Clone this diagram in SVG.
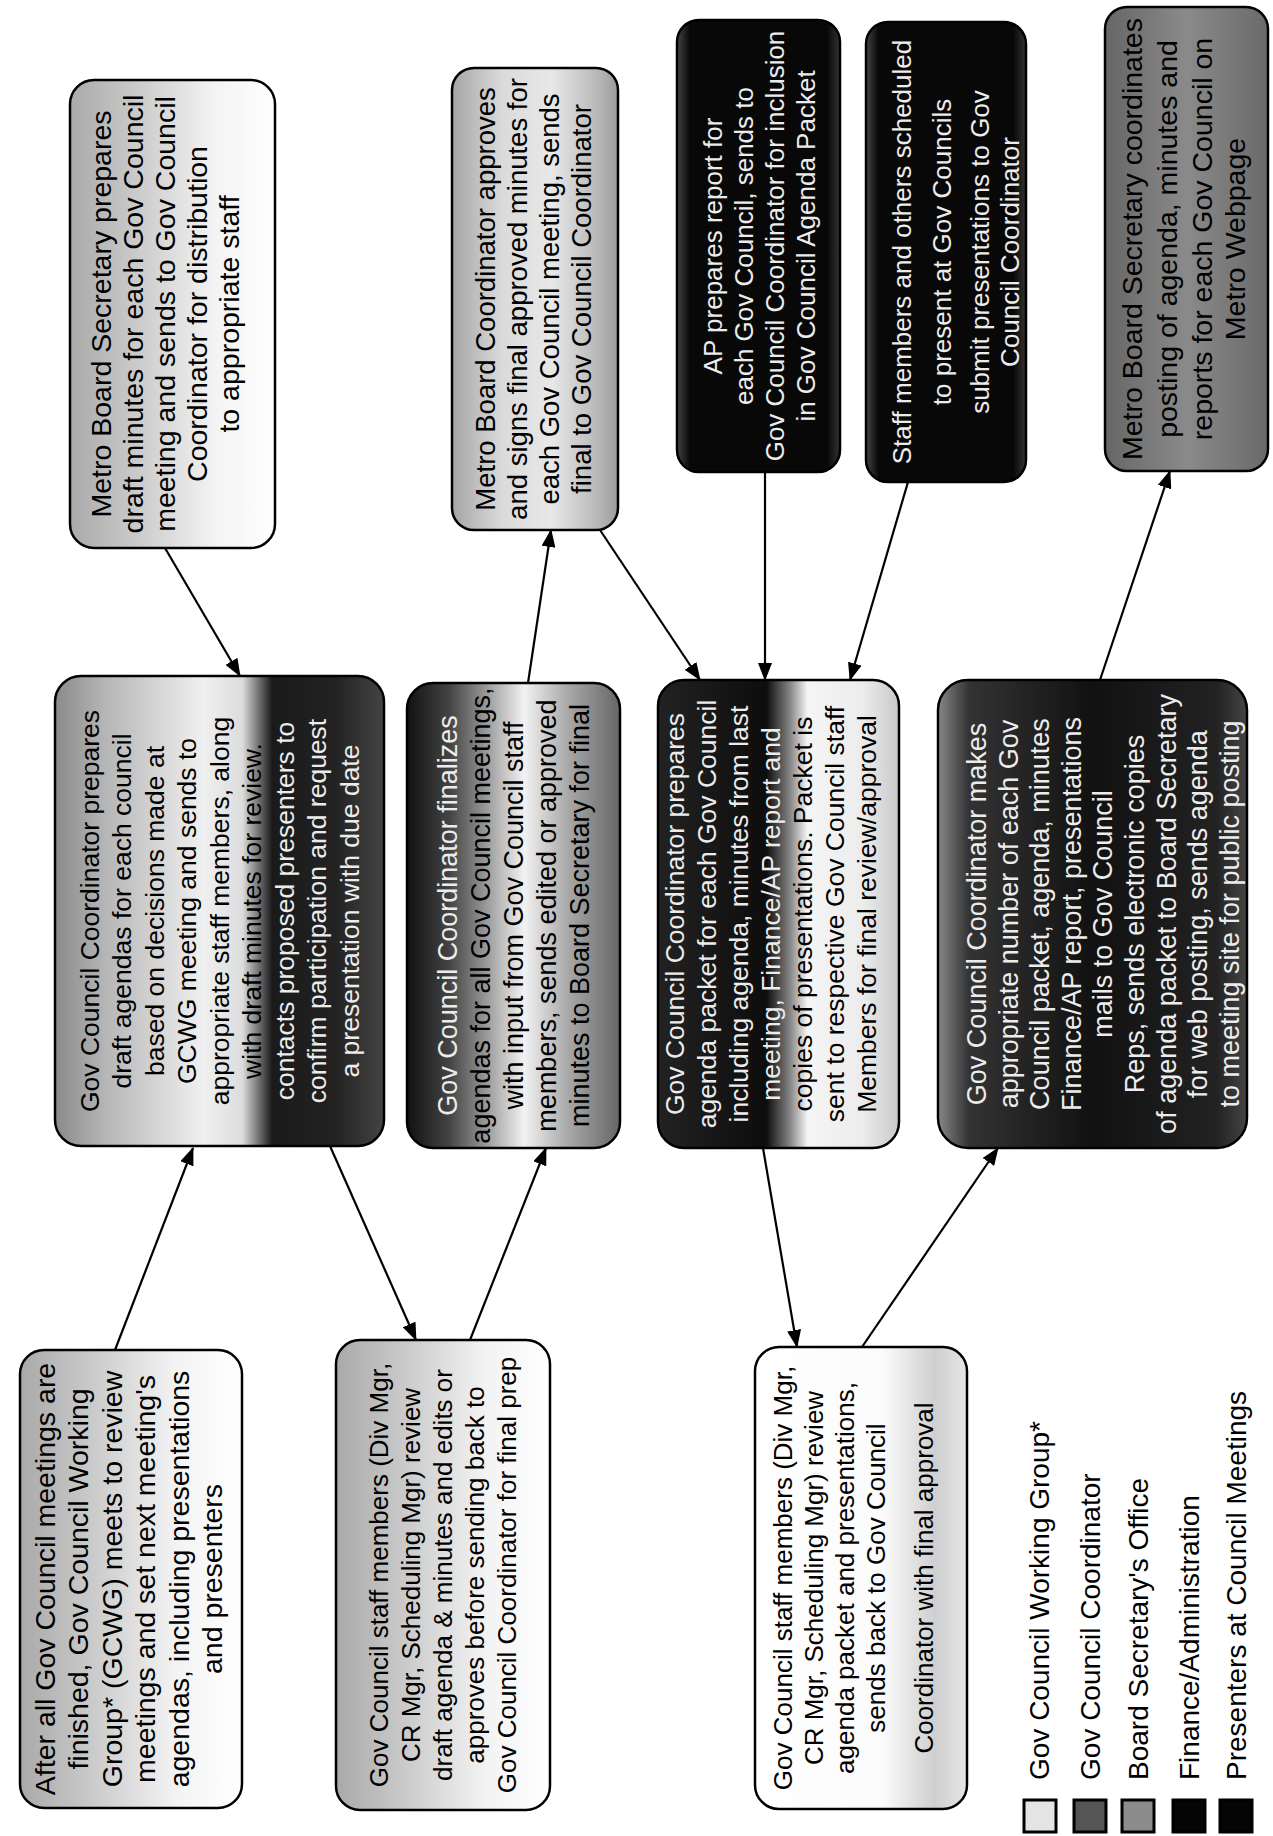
<svg xmlns="http://www.w3.org/2000/svg" width="1273" height="1836" viewBox="0 0 1273 1836">
<style>
.box{stroke:#000;stroke-width:2.5}
.t{font-family:"Liberation Sans",Arial,sans-serif;font-size:26px;text-anchor:middle;fill:#000}
.w{fill:#ececec}
.lg{font-family:"Liberation Sans",Arial,sans-serif;font-size:28px;fill:#000}
.sw{stroke:#000;stroke-width:3}
.cn line{stroke:#000;stroke-width:2.2;marker-end:url(#ah)}
</style>
<defs>
<marker id="ah" markerWidth="18" markerHeight="14" refX="17" refY="7" orient="auto" markerUnits="userSpaceOnUse"><path d="M0,0 L18,7 L0,14 z" fill="#000"/></marker>
<linearGradient id="gA" x1="0" y1="0" x2="1" y2="0"><stop offset="0" stop-color="#a9a9a9"/><stop offset="0.35" stop-color="#cdcdcd"/><stop offset="0.7" stop-color="#f3f3f3"/><stop offset="1" stop-color="#fff"/></linearGradient>
<linearGradient id="gC" x1="0" y1="0" x2="1" y2="0"><stop offset="0" stop-color="#fff"/><stop offset="0.6" stop-color="#fbfbfb"/><stop offset="0.85" stop-color="#cfcfcf"/><stop offset="1" stop-color="#e6e6e6"/></linearGradient>
<linearGradient id="gI" x1="0" y1="0" x2="1" y2="0"><stop offset="0" stop-color="#a5a5a5"/><stop offset="0.3" stop-color="#dadada"/><stop offset="0.6" stop-color="#e8e8e8"/><stop offset="0.9" stop-color="#b4b4b4"/><stop offset="1" stop-color="#9a9a9a"/></linearGradient>
<linearGradient id="gD" x1="0" y1="0" x2="1" y2="0"><stop offset="0" stop-color="#8a8a8a"/><stop offset="0.15" stop-color="#b5b5b5"/><stop offset="0.45" stop-color="#f0f0f0"/><stop offset="0.57" stop-color="#dcdcdc"/><stop offset="0.66" stop-color="#1a1a1a"/><stop offset="0.85" stop-color="#222"/><stop offset="1" stop-color="#444"/></linearGradient>
<linearGradient id="gE" x1="0" y1="0" x2="1" y2="0"><stop offset="0" stop-color="#111"/><stop offset="0.2" stop-color="#444"/><stop offset="0.55" stop-color="#f2f2f2"/><stop offset="0.75" stop-color="#aaa"/><stop offset="1" stop-color="#666"/></linearGradient>
<linearGradient id="gF" x1="0" y1="0" x2="1" y2="0"><stop offset="0" stop-color="#222"/><stop offset="0.45" stop-color="#0d0d0d"/><stop offset="0.55" stop-color="#888"/><stop offset="0.62" stop-color="#f5f5f5"/><stop offset="0.85" stop-color="#ececec"/><stop offset="1" stop-color="#c8c8c8"/></linearGradient>
<linearGradient id="gG" x1="0" y1="0" x2="1" y2="0"><stop offset="0" stop-color="#888"/><stop offset="0.1" stop-color="#333"/><stop offset="0.5" stop-color="#111"/><stop offset="0.9" stop-color="#222"/><stop offset="1" stop-color="#444"/></linearGradient>
<linearGradient id="gK" x1="0" y1="0" x2="1" y2="0"><stop offset="0" stop-color="#444"/><stop offset="0.08" stop-color="#080808"/><stop offset="0.92" stop-color="#080808"/><stop offset="1" stop-color="#333"/></linearGradient>
<linearGradient id="gL" x1="0" y1="0" x2="1" y2="0"><stop offset="0" stop-color="#666"/><stop offset="0.5" stop-color="#8a8a8a"/><stop offset="1" stop-color="#6a6a6a"/></linearGradient>
</defs>

<g id="connectors" class="cn">
<line x1="115" y1="1350" x2="193" y2="1148"/>
<line x1="330" y1="1146" x2="416" y2="1340"/>
<line x1="470" y1="1340" x2="546" y2="1148"/>
<line x1="528" y1="683" x2="551" y2="530"/>
<line x1="165" y1="548" x2="240" y2="676"/>
<line x1="600" y1="530" x2="700" y2="680"/>
<line x1="765" y1="472" x2="765" y2="680"/>
<line x1="908" y1="482" x2="850" y2="680"/>
<line x1="763" y1="1148" x2="797" y2="1347"/>
<line x1="862" y1="1347" x2="998" y2="1148"/>
<line x1="1100" y1="680" x2="1170" y2="471"/>
</g>

<g id="nodeA">
<rect class="box" x="20" y="1350" width="222" height="458" rx="24" fill="url(#gA)"/>
<g transform="translate(131,1579) rotate(-90)">
<text class="t" style="font-size:28.5px" y="-76">After all Gov Council meetings are</text>
<text class="t" style="font-size:28.5px" y="-43">finished, Gov Council Working</text>
<text class="t" style="font-size:28.5px" y="-9">Group* (GCWG) meets to review</text>
<text class="t" style="font-size:28.5px" y="24">meetings and set next meeting's</text>
<text class="t" style="font-size:28.5px" y="58">agendas, including presentations</text>
<text class="t" style="font-size:28.5px" y="91">and presenters</text>
</g>
</g>

<g id="nodeB">
<rect class="box" x="336" y="1340" width="214" height="470" rx="24" fill="url(#gA)"/>
<g transform="translate(443,1575) rotate(-90)">
<text class="t" y="-55">Gov Council staff members (Div Mgr,</text>
<text class="t" y="-23">CR Mgr, Scheduling Mgr) review</text>
<text class="t" y="9">draft agenda &amp; minutes and edits or</text>
<text class="t" y="41">approves before sending back to</text>
<text class="t" y="73">Gov Council Coordinator for final prep</text>
</g>
</g>

<g id="nodeC">
<rect class="box" x="755" y="1347" width="212" height="462" rx="24" fill="url(#gC)"/>
<g transform="translate(861,1578) rotate(-90)">
<text class="t" y="-69">Gov Council staff members (Div Mgr,</text>
<text class="t" y="-38">CR Mgr, Scheduling Mgr) review</text>
<text class="t" y="-7">agenda packet and presentations,</text>
<text class="t" y="24">sends back to Gov Council</text>
<text class="t" y="72">Coordinator with final approval</text>
</g>
</g>

<g id="nodeD">
<rect class="box" x="55" y="676" width="329" height="470" rx="26" fill="url(#gD)"/>
<g transform="translate(219.5,911) rotate(-90)">
<text class="t" style="font-size:26.5px" y="-121">Gov Council Coordinator prepares</text>
<text class="t" style="font-size:26.5px" y="-88.5">draft agendas for each council</text>
<text class="t" style="font-size:26.5px" y="-56">based on decisions made at</text>
<text class="t" style="font-size:26.5px" y="-23.5">GCWG meeting and sends to</text>
<text class="t" style="font-size:26.5px" y="9">appropriate staff members, along</text>
<text class="t" style="font-size:26.5px" y="41.5">with draft minutes for review.</text>
<text class="t w" style="font-size:26.5px" y="74">contacts proposed presenters to</text>
<text class="t w" style="font-size:26.5px" y="106.5">confirm participation and request</text>
<text class="t w" style="font-size:26.5px" y="139">a presentation with due date</text>
</g>
</g>

<g id="nodeE">
<rect class="box" x="407" y="683" width="213" height="465" rx="26" fill="url(#gE)"/>
<g transform="translate(513.5,915.5) rotate(-90)">
<text class="t w" style="font-size:27px" y="-57">Gov Council Coordinator finalizes</text>
<text class="t" style="font-size:27px" y="-24">agendas for all Gov Council meetings,</text>
<text class="t" style="font-size:27px" y="9">with input from Gov Council staff</text>
<text class="t" style="font-size:27px" y="42">members, sends edited or approved</text>
<text class="t" style="font-size:27px" y="75">minutes to Board Secretary for final</text>
</g>
</g>

<g id="nodeF">
<rect class="box" x="658" y="680" width="241" height="468" rx="26" fill="url(#gF)"/>
<g transform="translate(778.5,914) rotate(-90)">
<text class="t w" style="font-size:26.5px" y="-94.5">Gov Council Coordinator prepares</text>
<text class="t w" style="font-size:26.5px" y="-62.5">agenda packet for each Gov Council</text>
<text class="t w" style="font-size:26.5px" y="-30.5">including agenda, minutes from last</text>
<text class="t w" style="font-size:26.5px" y="1.5">meeting, Finance/AP report and</text>
<text class="t" style="font-size:26.5px" y="33.5">copies of presentations. Packet is</text>
<text class="t" style="font-size:26.5px" y="65.5">sent to respective Gov Council staff</text>
<text class="t" style="font-size:26.5px" y="97.5">Members for final review/approval</text>
</g>
</g>

<g id="nodeG">
<rect class="box" x="938" y="680" width="309" height="468" rx="30" fill="url(#gG)"/>
<g transform="translate(1092.5,914) rotate(-90)">
<text class="t w" style="font-size:27px" y="-106.5">Gov Council Coordinator makes</text>
<text class="t w" style="font-size:27px" y="-74.9">appropriate number of each Gov</text>
<text class="t w" style="font-size:27px" y="-43.3">Council packet, agenda, minutes</text>
<text class="t w" style="font-size:27px" y="-11.7">Finance/AP report, presentations</text>
<text class="t w" style="font-size:27px" y="19.9">mails to Gov Council</text>
<text class="t w" style="font-size:27px" y="51.5">Reps, sends electronic copies</text>
<text class="t w" style="font-size:27px" y="83.1">of agenda packet to Board Secretary</text>
<text class="t w" style="font-size:27px" y="114.7">for web posting, sends agenda</text>
<text class="t w" style="font-size:27px" y="146.3">to meeting site for public posting</text>
</g>
</g>

<g id="nodeH">
<rect class="box" x="70" y="80" width="205" height="468" rx="24" fill="url(#gA)"/>
<g transform="translate(172.5,314) rotate(-90)">
<text class="t" style="font-size:28.5px" y="-62">Metro Board Secretary prepares</text>
<text class="t" style="font-size:28.5px" y="-30">draft minutes for each Gov Council</text>
<text class="t" style="font-size:28.5px" y="2">meeting and sends to Gov Council</text>
<text class="t" style="font-size:28.5px" y="34">Coordinator for distribution</text>
<text class="t" style="font-size:28.5px" y="66">to appropriate staff</text>
</g>
</g>

<g id="nodeI">
<rect class="box" x="452" y="68" width="166" height="462" rx="22" fill="url(#gI)"/>
<g transform="translate(535,299) rotate(-90)">
<text class="t" style="font-size:27.5px" y="-40">Metro Board Coordinator approves</text>
<text class="t" style="font-size:27.5px" y="-8">and signs final approved minutes for</text>
<text class="t" style="font-size:27.5px" y="24">each Gov Council meeting, sends</text>
<text class="t" style="font-size:27.5px" y="56">final to Gov Council Coordinator</text>
</g>
</g>

<g id="nodeJ">
<rect class="box" x="677" y="20" width="163" height="452" rx="22" fill="url(#gK)"/>
<g transform="translate(758.5,246) rotate(-90)">
<text class="t w" y="-36.5">AP prepares report for</text>
<text class="t w" y="-5.5">each Gov Council, sends to</text>
<text class="t w" y="25.5">Gov Council Coordinator for inclusion</text>
<text class="t w" y="56.5">in Gov Council Agenda Packet</text>
</g>
</g>

<g id="nodeK">
<rect class="box" x="866" y="22" width="160" height="460" rx="22" fill="url(#gK)"/>
<g transform="translate(946,252) rotate(-90)">
<text class="t w" y="-35">Staff members and others scheduled</text>
<text class="t w" y="5">to present at Gov Councils</text>
<text class="t w" y="43">submit presentations to Gov</text>
<text class="t w" y="73">Council Coordinator</text>
</g>
</g>

<g id="nodeL">
<rect class="box" x="1105" y="7" width="163" height="464" rx="22" fill="url(#gL)"/>
<g transform="translate(1186.5,239) rotate(-90)">
<text class="t" style="font-size:28.5px" y="-45">Metro Board Secretary coordinates</text>
<text class="t" style="font-size:28.5px" y="-10">posting of agenda, minutes and</text>
<text class="t" style="font-size:28.5px" y="25">reports for each Gov Council on</text>
<text class="t" style="font-size:28.5px" y="58">Metro Webpage</text>
</g>
</g>

<g id="legend">
<rect class="sw" x="1024" y="1800" width="32" height="32" fill="#e4e4e4"/>
<rect class="sw" x="1074" y="1800" width="32" height="32" fill="#555"/>
<rect class="sw" x="1122" y="1800" width="32" height="32" fill="#8c8c8c"/>
<rect class="sw" x="1173" y="1800" width="32" height="32" fill="#050505"/>
<rect class="sw" x="1220" y="1800" width="32" height="32" fill="#050505"/>
<text class="lg" transform="translate(1049,1780) rotate(-90)">Gov Council Working Group*</text>
<text class="lg" transform="translate(1100,1780) rotate(-90)">Gov Council Coordinator</text>
<text class="lg" transform="translate(1148,1780) rotate(-90)">Board Secretary's Office</text>
<text class="lg" transform="translate(1199,1780) rotate(-90)">Finance/Administration</text>
<text class="lg" transform="translate(1246,1780) rotate(-90)">Presenters at Council Meetings</text>
</g>
</svg>
